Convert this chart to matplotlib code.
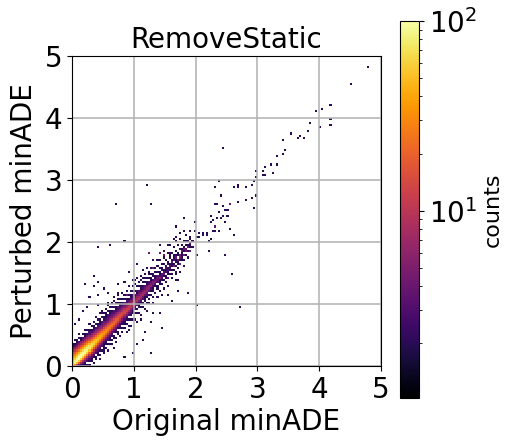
"""
RemoveStatic: original vs perturbed minADE, 2d histogram.
"""

import numpy as np
import matplotlib
matplotlib.use('Agg')
import matplotlib.pyplot as plt
from matplotlib.colors import LogNorm

BINS = 150
LIMIT = 5
BIN_W = LIMIT / BINS
OFFSET = 10  # first table column is 10 bins below the diagonal

# counts along the diagonal, one row per bin, offsets -10..+12 bins in y
BAND = [
    [0,0,0,0,0,0,0,0,0,0,45,60,55,40,28,20,12,7,4,2,2,0,0],
    [0,0,0,0,0,0,0,0,0,35,85,80,60,42,28,18,10,6,3,2,0,2,0],
    [0,0,0,0,0,0,0,0,12,50,100,95,68,44,28,16,9,5,3,2,2,0,0],
    [0,0,0,0,0,0,0,5,20,60,100,100,72,46,26,15,9,5,3,0,2,0,2],
    [0,0,0,0,0,0,3,8,24,62,100,100,72,44,24,14,8,5,2,2,0,0,0],
    [0,0,0,0,0,2,4,10,26,62,98,92,66,40,22,12,8,4,3,0,2,0,0],
    [0,0,0,0,2,2,5,11,26,60,92,86,60,36,20,11,7,4,2,2,0,2,0],
    [0,0,0,2,0,3,5,11,26,56,84,80,55,32,18,10,7,4,2,0,2,0,0],
    [0,0,2,0,2,3,5,10,24,50,76,72,50,28,16,9,6,3,3,2,0,0,2],
    [0,0,0,2,2,3,5,10,22,45,68,64,45,26,14,8,6,3,2,0,2,0,0],
    [0,2,0,0,2,3,5,9,20,40,60,56,40,23,13,8,5,3,2,2,0,2,0],
    [0,0,2,2,0,3,4,9,18,36,54,50,35,20,12,7,5,3,0,2,0,0,2],
    [0,0,0,2,2,3,4,8,16,32,48,45,32,18,10,7,4,3,2,0,2,0,0],
    [2,0,2,0,2,3,4,7,15,28,44,40,28,16,9,6,4,2,2,2,0,0,2],
    [0,0,0,2,0,3,4,7,14,25,40,36,25,14,8,5,4,3,0,2,0,2,0],
    [0,2,0,2,2,2,3,6,12,22,36,32,22,13,8,5,4,2,2,0,2,0,0],
    [0,0,2,0,2,2,3,6,11,20,32,29,20,12,7,4,3,2,2,2,0,2,0],
    [2,0,0,2,0,3,3,5,10,18,29,26,18,11,6,4,3,3,0,2,0,0,2],
    [0,0,2,0,2,2,3,5,9,16,26,24,16,10,6,4,3,2,2,0,2,0,0],
    [0,2,0,2,0,2,3,4,8,14,24,22,15,9,5,4,3,2,0,2,0,2,0],
    [0,0,0,2,2,0,3,4,7,13,22,20,14,8,5,3,3,0,2,0,0,2,0],
    [2,0,2,0,0,2,3,4,7,12,20,18,12,7,5,3,2,2,0,2,0,0,0],
    [0,0,0,2,2,0,2,4,6,11,18,16,11,7,4,3,3,0,2,0,2,0,2],
    [0,2,0,0,0,2,3,3,6,10,16,15,10,6,4,3,2,2,0,2,0,0,0],
    [0,0,2,0,2,0,2,3,5,9,15,14,9,6,4,3,2,0,2,0,0,2,0],
    [0,0,0,2,0,2,2,3,5,8,14,13,9,5,4,3,0,2,0,2,0,0,0],
    [2,0,0,0,2,0,2,3,5,8,13,12,8,5,3,3,2,0,2,0,2,0,0],
    [0,0,2,0,0,2,0,3,4,7,12,11,7,5,3,2,0,2,0,0,0,2,0],
    [0,2,0,0,2,0,2,3,4,7,11,10,7,5,3,2,2,0,2,0,0,0,0],
    [0,0,0,2,0,0,2,2,4,6,10,9,6,4,3,3,0,2,0,2,0,0,2],
    [0,0,2,0,0,2,0,3,3,6,10,9,6,4,3,0,2,0,0,2,0,0,0],
    [2,0,0,0,2,0,2,0,4,5,9,8,6,4,2,3,0,2,0,0,0,2,0],
    [0,0,0,2,0,0,2,2,3,5,9,8,5,4,3,0,2,0,2,0,0,0,0],
    [0,2,0,0,0,2,0,2,3,5,8,7,5,3,2,2,0,0,2,0,2,0,0],
    [0,0,0,0,2,0,2,0,3,4,8,7,5,3,2,0,2,0,0,0,0,0,2],
    [0,0,2,0,0,0,2,2,2,4,7,6,4,3,0,2,0,2,0,2,0,0,0],
    [2,0,0,0,2,0,0,2,3,4,7,6,4,2,2,0,2,0,0,0,0,2,0],
    [0,0,0,2,0,2,0,2,0,4,6,6,3,3,0,2,0,0,2,0,0,0,0],
    [0,0,0,0,0,0,2,0,2,3,6,5,3,2,2,0,2,0,0,2,0,0,0],
    [0,2,0,0,2,0,0,2,2,3,5,5,3,0,2,2,0,0,2,0,0,0,2],
    [0,0,0,0,0,2,0,0,2,3,5,4,2,2,0,2,0,2,0,0,0,0,0],
    [0,0,2,0,0,0,2,2,0,3,4,4,3,0,2,0,0,2,0,0,2,0,0],
    [0,0,0,0,2,0,0,2,2,2,4,3,2,2,0,2,0,0,0,2,0,0,0],
    [0,2,0,0,0,0,2,0,2,3,3,3,0,2,2,0,2,0,0,0,0,0,0],
    [0,0,0,2,0,0,0,2,0,2,4,3,2,0,0,2,0,0,2,0,0,2,0],
    [0,0,0,0,0,2,0,2,2,0,3,2,3,2,0,0,2,0,0,0,0,0,0],
    [0,0,2,0,0,0,2,0,2,2,3,2,0,2,2,0,0,0,2,0,0,0,0],
    [0,0,0,0,0,0,0,2,0,2,3,3,2,0,0,2,0,2,0,0,0,2,0],
    [0,0,0,0,2,0,2,0,2,0,2,2,2,2,0,0,2,0,0,0,0,0,0],
    [0,0,0,0,0,0,0,2,0,3,2,0,3,0,2,0,0,0,2,0,0,0,0],
    [0,2,0,0,0,2,0,0,2,0,2,2,0,2,0,2,0,0,0,0,2,0,0],
    [0,0,0,0,0,0,2,0,0,2,2,0,2,2,0,0,0,2,0,0,0,0,0],
    [0,0,0,2,0,0,0,2,0,2,3,2,0,0,2,0,0,0,0,2,0,0,0],
    [0,0,0,0,0,0,0,0,2,0,2,0,2,2,0,2,0,0,0,0,0,0,0],
    [0,0,0,0,2,0,0,2,0,2,0,2,2,0,0,0,2,0,0,0,0,0,0],
    [0,0,0,0,0,0,0,0,2,0,2,2,0,2,0,0,0,0,2,0,0,0,0],
    [0,0,0,0,0,0,2,0,0,2,0,2,0,0,2,0,0,0,0,0,0,0,0],
    [0,0,0,0,0,0,0,0,2,0,2,0,2,0,0,2,0,0,0,0,0,0,0],
]

# single cells off the band
OUT_X = [4.78, 4.53, 4.17, 4.06, 3.96, 4.19, 4.19, 4.02, 3.85, 3.83, 3.75, 3.67, 3.66, 3.56, 3.43, 3.45, 3.41,
         3.30, 3.33, 3.21, 3.11, 3.26, 3.09, 2.99, 3.09, 3.13, 2.99, 2.94, 2.92, 2.44, 2.39, 1.21, 1.27, 2.31,
         2.60, 2.68, 2.69, 2.82, 2.98, 2.92, 2.94, 2.80, 2.67, 2.41, 2.35, 2.33, 2.45, 2.56, 2.56, 2.51, 2.48,
         2.37, 2.24, 2.35, 2.44, 2.50, 2.42, 2.28, 2.26, 2.48, 2.30, 2.33, 2.54, 2.27, 2.32, 2.37, 2.60, 1.82,
         1.97, 1.68, 1.80, 1.74, 1.91, 1.97, 2.18, 2.10, 2.06, 2.01, 2.05, 2.11, 2.17, 2.24, 2.21, 2.22, 2.48,
         2.03, 1.96, 1.91, 1.86, 1.64, 1.68, 1.55, 1.40, 1.25, 1.41, 1.48, 1.59, 1.78, 1.80, 1.83, 1.87, 1.90,
         1.75, 1.69, 1.79, 1.86, 1.91, 1.94, 1.64, 2.72, 2.59, 2.02, 0.71, 0.40, 0.61, 0.84,
         0.36, 0.20, 0.40, 0.35, 0.28, 0.43, 0.51, 0.59, 0.74, 0.84, 1.04, 0.93, 1.03, 0.17, 0.24, 0.06, 0.13,
         0.43, 0.48, 0.57, 0.67, 0.76, 0.89, 0.51, 0.67, 0.84, 0.97, 1.05, 1.27, 1.45, 1.19, 1.16, 0.92, 1.11,
         1.27, 1.33, 1.43, 1.63, 1.87, 1.73, 1.54, 1.26, 1.43, 1.49, 1.60, 1.68, 1.82, 1.76, 1.68, 1.71, 1.33,
         1.24, 1.16, 1.43, 1.54, 1.72, 1.78, 1.84, 1.88, 1.93, 1.70, 1.76, 1.66]
OUT_Y = [4.81, 4.54, 4.20, 4.15, 4.11, 3.99, 3.87, 3.84, 3.90, 3.78, 3.69, 3.71, 3.69, 3.75, 3.66, 3.48, 3.42,
         3.39, 3.26, 3.26, 3.21, 3.11, 3.15, 3.14, 3.08, 3.08, 3.05, 2.99, 2.92, 3.50, 2.99, 2.92, 2.63, 2.87,
         2.87, 2.89, 2.90, 2.87, 2.75, 2.71, 2.56, 2.68, 2.65, 2.75, 2.62, 2.60, 2.59, 2.63, 2.60, 2.50, 2.53,
         2.47, 2.41, 2.39, 2.43, 2.41, 2.39, 2.35, 2.32, 2.32, 2.26, 2.26, 2.23, 2.19, 2.17, 2.18, 2.10, 2.38,
         2.32, 2.26, 2.19, 2.16, 2.19, 2.17, 2.16, 2.15, 2.15, 2.09, 2.09, 2.10, 2.10, 2.04, 2.00, 1.86, 1.77,
         1.77, 2.01, 2.04, 2.01, 2.04, 2.08, 1.95, 1.95, 1.83, 1.83, 1.79, 1.79, 1.84, 1.88, 1.93, 1.95, 1.98,
         1.79, 1.75, 1.76, 1.87, 1.84, 1.93, 1.76, 0.95, 1.47, 0.98, 2.60, 1.90, 1.95, 2.00,
         1.45, 1.33, 1.36, 1.27, 1.12, 1.16, 1.24, 1.17, 1.32, 1.35, 1.66, 1.50, 1.37, 0.88, 0.95, 0.67, 0.76,
         0.97, 0.89, 1.03, 1.13, 1.19, 1.16, 0.26, 0.28, 0.15, 0.23, 0.34, 0.21, 0.60, 0.55, 0.43, 0.57, 0.76,
         0.73, 0.84, 0.84, 1.05, 1.19, 1.21, 1.16, 1.81, 1.81, 1.77, 1.69, 1.74, 1.77, 1.64, 1.48, 1.37, 1.59,
         1.48, 1.43, 1.40, 1.43, 1.70, 1.80, 1.86, 1.90, 1.96, 1.66, 1.74, 1.62]

X_TICKS = [0, 1, 2, 3, 4, 5]
Y_TICKS = [0, 1, 2, 3, 4, 5]

x, y, w = [], [], []
for i, row in enumerate(BAND):
    for k, c in enumerate(row):
        if c > 0 and i + k - OFFSET >= 0:
            x.append((i + 0.5) * BIN_W)
            y.append((i + k - OFFSET + 0.5) * BIN_W)
            w.append(c)
x = np.array(x + OUT_X)
y = np.array(y + OUT_Y)
w = np.array(w + [2] * len(OUT_X))

counts, _, _ = np.histogram2d(x, y, bins=BINS, range=[[0, LIMIT], [0, LIMIT]], weights=w)
counts = np.ma.masked_equal(counts, 0)

fig = plt.figure(figsize=(5.15, 4.46), dpi=100)
ax = fig.add_axes([72 / 515, 1 - 366 / 446, 309 / 515, 310 / 446])
im = ax.imshow(counts.T, origin='lower', extent=[0, LIMIT, 0, LIMIT], aspect='auto',
               cmap='inferno', norm=LogNorm(vmin=1.03, vmax=100), interpolation='nearest')
ax.grid(True, color='#b0b0b0', linewidth=1.1)
ax.set_xticks(X_TICKS)
ax.set_yticks(Y_TICKS)
ax.tick_params(labelsize=20)
ax.set_title('RemoveStatic', fontsize=20, pad=6)
ax.set_xlabel('Original minADE', fontsize=20, labelpad=3)
ax.set_ylabel('Perturbed minADE', fontsize=20, labelpad=5)

cax = fig.add_axes([400 / 515, 1 - 398 / 446, 19 / 515, 377 / 446])
cbar = fig.colorbar(im, cax=cax)
cbar.ax.tick_params(labelsize=20)
cbar.set_label('counts', fontsize=16, labelpad=4)

fig.savefig('out.png', dpi=100)
